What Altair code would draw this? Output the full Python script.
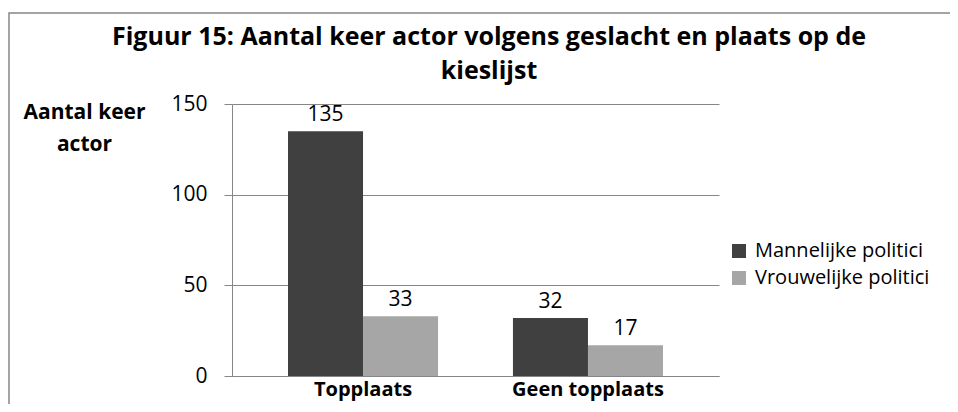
import altair as alt
import pandas as pd

categories = ["Topplaats", "Geen topplaats"]
series = ["Mannelijke politici", "Vrouwelijke politici"]
mannelijk = [135, 32]
vrouwelijk = [33, 17]
colors = ["#404040", "#a6a6a6"]
y_ticks = [0, 50, 100, 150]
title_lines = ["Figuur 15: Aantal keer actor volgens geslacht en plaats op de", "kieslijst"]

rows = []
for i, c in enumerate(categories):
    rows.append({"cat": c, "serie": series[0], "val": mannelijk[i]})
    rows.append({"cat": c, "serie": series[1], "val": vrouwelijk[i]})
df = pd.DataFrame(rows)

FONT = "Open Sans"
W, H = 487, 272
FS = 21

x = alt.X("cat:N", sort=categories,
          scale=alt.Scale(paddingInner=0.333, paddingOuter=0.249),
          axis=alt.Axis(title=None, labelAngle=0, labelFont=FONT, labelFontSize=20,
                        labelFontWeight="bold", labelColor="#000000", labelPadding=3,
                        ticks=False, domainColor="#868686", grid=False))
xo = alt.XOffset("serie:N", sort=series)
y = alt.Y("val:Q", scale=alt.Scale(domain=[0, 150], nice=False),
          axis=alt.Axis(values=y_ticks, title=["Aantal keer", "actor"], titleAngle=0,
                        titleFont=FONT, titleFontSize=FS, titleFontWeight="bold",
                        titleColor="#000000", titleAlign="center", titleBaseline="alphabetic",
                        titleX=-148, titleY=14, titleLineHeight=32,
                        labelFont=FONT, labelFontSize=FS, labelColor="#000000",
                        labelPadding=17, tickSize=8, tickColor="#868686",
                        domainColor="#868686", gridColor="#868686", grid=True))

bars = alt.Chart(df).mark_bar().encode(
    x=x, xOffset=xo, y=y,
    color=alt.Color("serie:N", sort=series,
                    scale=alt.Scale(domain=series, range=colors),
                    legend=alt.Legend(title=None, orient="none", legendX=497, legendY=137,
                                      symbolType="square", symbolSize=196,
                                      symbolStrokeWidth=0, labelFont=FONT,
                                      labelFontSize=20, labelColor="#000000",
                                      labelLimit=400, rowPadding=7, labelOffset=6)),
)
labels = alt.Chart(df).mark_text(dy=-16, font=FONT, fontSize=FS, color="#000000").encode(
    x=x, xOffset=xo, y=y, text="val:Q"
)
frame = alt.Chart(pd.DataFrame({"a": [0]})).mark_rect(
    fill=None, stroke="#868686", strokeWidth=1.5, clip=False
).encode(x=alt.value(-223), x2=alt.value(800), y=alt.value(-91), y2=alt.value(400))

title = alt.Chart(pd.DataFrame({"a": [0]})).mark_text(
    font=FONT, fontSize=25, fontWeight="bold", color="#000000",
    align="center", baseline="alphabetic", lineHeight=34
).encode(x=alt.value(257), y=alt.value(-59), text=alt.value(title_lines))

chart = alt.layer(frame, title, bars, labels).properties(
    width=W, height=H,
    autosize=alt.AutoSizeParams(type="none"),
    padding={"left": 224, "top": 96, "right": 231, "bottom": 28},
).configure_view(stroke=None)

chart.save("out.html", embed_options={"renderer": "svg", "actions": False})
